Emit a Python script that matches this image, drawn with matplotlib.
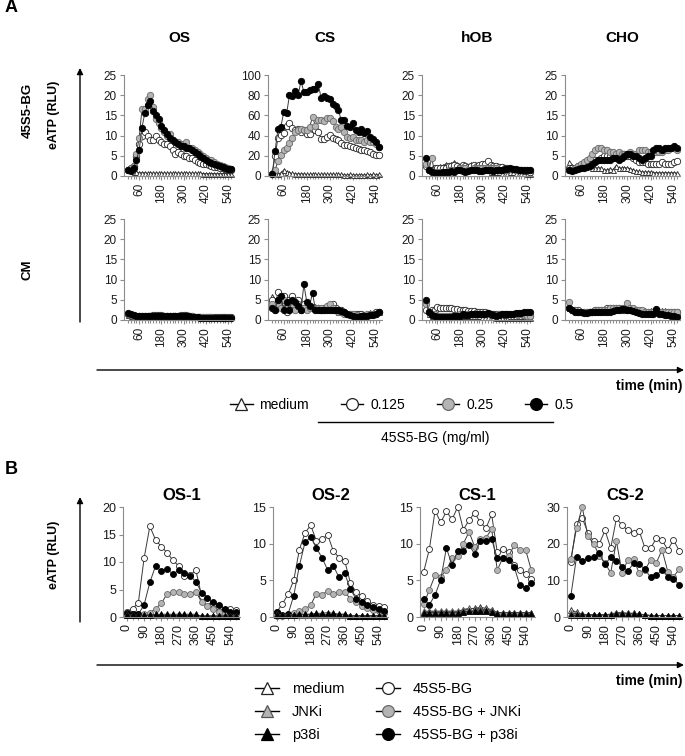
import matplotlib
matplotlib.use('Agg')
import matplotlib.pyplot as plt
from matplotlib.lines import Line2D

plt.rcParams['font.family'] = ['Liberation Sans', 'DejaVu Sans']

# ---------------- panel A data (time step 15 min, starting at 0) ----------------
step_a = 15
cols_a = ['OS', 'CS', 'hOB', 'CHO']
rows_a = ['45S5-BG', 'CM']
doses = ['medium', '0.125', '0.25', '0.5']

os_bg_med = [2.0, 1.5, 1.0, 0.9, 0.8, 0.8, 0.8, 0.7, 0.7, 0.7, 0.7, 0.7, 0.7, 0.7, 0.7, 0.7, 0.7, 0.7, 0.7, 0.7,
             0.7, 0.7, 0.7, 0.7, 0.7, 0.7, 0.7, 0.6, 0.6, 0.6, 0.6, 0.6, 0.6, 0.6, 0.6, 0.6, 0.6, 0.6]
os_bg_0125 = [1.5, 2.0, 2.5, 5.0, 8.0, 10.0, 11.0, 10.0, 9.0, 9.0, 10.0, 9.0, 8.5, 8.0, 8.0, 7.5, 6.5, 5.5, 6.0, 5.5,
              5.0, 5.0, 4.5, 4.5, 4.0, 3.5, 3.3, 3.0, 3.0, 2.8, 2.5, 2.3, 2.2, 2.0, 2.0, 1.8, 1.7, 1.6]
os_bg_025 = [1.5, 2.0, 2.5, 5.5, 9.5, 16.5, 16.5, 19.0, 20.0, 17.0, 14.0, 13.0, 12.0, 11.0, 10.0, 10.5, 9.0, 8.5, 8.5, 8.0,
             8.0, 8.5, 7.0, 7.0, 6.5, 6.0, 5.5, 5.0, 4.5, 4.0, 4.0, 3.5, 3.0, 2.8, 2.5, 2.3, 2.0, 1.8]
os_bg_05 = [1.5, 1.2, 2.0, 4.0, 6.5, 12.0, 15.5, 17.5, 18.5, 16.0, 15.0, 14.0, 12.5, 11.5, 10.5, 9.5, 9.0, 8.5, 8.0, 7.5,
            7.5, 7.0, 7.0, 6.5, 6.0, 5.5, 5.0, 4.5, 4.0, 3.5, 3.2, 3.0, 2.8, 2.5, 2.2, 2.0, 1.8, 1.7]

cs_bg_med = [5, 3, 2, 3, 6, 4, 3, 2.5, 2, 2, 2, 2, 1.5, 1.5, 2, 1.5, 1.5, 1.5, 2, 1.5,
             1.5, 2, 1.5, 1.5, 1.5, 1, 1, 1.5, 1, 1, 1, 1, 1, 1.5, 1, 1.5, 1, 1.5]
cs_bg_0125 = [2, 20, 38, 41, 43, 50, 52, 48, 46, 47, 44, 46, 42, 42, 47, 46, 44, 37, 37, 39,
              41, 38, 37, 36, 33, 31, 31, 30, 29, 28, 27, 26, 26, 25, 24, 22, 21, 21]
cs_bg_025 = [2, 6, 15, 21, 26, 28, 33, 38, 44, 46, 47, 46, 46, 49, 58, 50, 55, 55, 54, 57,
             57, 54, 49, 47, 49, 44, 39, 38, 39, 36, 36, 36, 34, 36, 34, 34, 32, 29]
cs_bg_05 = [2, 25, 47, 49, 63, 62, 80, 79, 84, 80, 94, 83, 83, 85, 86, 86, 91, 77, 79, 77,
            76, 71, 69, 65, 55, 55, 50, 49, 52, 46, 44, 47, 43, 45, 39, 37, 34, 29]

hob_bg_med = [3, 1.5, 1.8, 2, 2, 2.5, 2.5, 3, 2.5, 3, 3.5, 3, 2.5, 2, 2.5, 2.5, 3, 2.5, 2, 2,
              1.5, 1.5, 1.5, 1, 1, 1, 1, 0.8, 0.8, 0.8, 1, 1, 0.8, 0.8, 0.7, 0.7, 0.6, 0.6]
hob_bg_0125 = [2.5, 1.5, 1.5, 2, 2, 2, 2, 2, 2.5, 2.5, 2.8, 2.5, 2.2, 2.8, 2.5, 2.2, 2.5, 2.8, 2.5, 2.8,
               3.0, 3.0, 3.8, 2.8, 2.5, 2.5, 2.2, 2.2, 2.0, 2.0, 1.8, 1.8, 1.5, 1.5, 1.5, 1.2, 1.2, 1.0]
hob_bg_025 = [3, 1.5, 4.5, 1, 1, 1, 1, 1, 1.5, 1.5, 1.5, 1.5, 2, 2, 2, 1.5, 1.5, 2, 2, 2,
              2, 2, 2, 2, 2, 2, 1.5, 1.5, 1.5, 1.5, 1.8, 1.8, 1.5, 1.5, 1.5, 1.5, 1.5, 1.5]
hob_bg_05 = [4.5, 1.5, 1, 0.8, 0.8, 0.8, 1, 1, 1, 1.2, 1, 1.5, 1.5, 1.2, 1, 1.2, 1.5, 1.5, 1.5, 1.2,
             1.2, 1.5, 1.5, 1.5, 1.2, 1.5, 1.5, 1.5, 1.8, 1.8, 2, 1.8, 1.8, 1.6, 1.5, 1.5, 1.5, 1.4]

cho_bg_med = [3.5, 2.5, 2, 2, 2.5, 2.5, 2.5, 2.5, 2, 2, 2, 2, 1.5, 1.5, 1.8, 1.5, 2.5, 2, 2, 2,
              2, 1.8, 1.5, 1.2, 1.2, 1, 1, 1, 1, 0.8, 0.8, 0.8, 0.8, 0.8, 0.8, 0.8, 0.8, 0.7]
cho_bg_0125 = [2, 2, 2, 2.5, 2.5, 3, 3, 3.5, 3.5, 4, 4, 4.5, 5, 5, 5, 5, 5, 5, 5.5, 5.5,
               5, 5, 4.5, 4, 3.5, 3.5, 3.5, 3, 3, 3, 3, 3, 3.5, 3, 3, 3, 3.5, 3.8]
cho_bg_025 = [1.5, 1.5, 2, 2.5, 3, 3.5, 4, 4.5, 5.5, 6.5, 7, 7, 6.5, 6.5, 6, 6, 5.5, 6, 5.5, 5.5,
              5.5, 6, 5.5, 5.5, 6.5, 6.5, 6.5, 6, 6, 6, 6, 6, 6, 6.5, 6.5, 7, 7, 6.5]
cho_bg_05 = [1.5, 1.2, 1.5, 1.8, 2, 2, 2.2, 2.5, 3, 3.5, 4, 4, 4, 4, 4, 4.5, 4.5, 4, 4.5, 5,
             5.5, 5.5, 5, 5, 4.5, 4, 4.5, 5, 5, 6.5, 7, 7, 6.5, 7, 7, 7, 7.5, 7]

os_cm_med = [1.2, 1, 1, 1, 1, 1, 1, 1, 1, 1, 1, 1, 1, 1, 1, 1, 1, 1, 1, 1,
             1, 1, 0.8, 0.8, 0.8, 0.8, 0.8, 0.8, 0.8, 0.8, 0.8, 0.8, 0.7, 0.7, 0.7, 0.7, 0.7, 0.7]
os_cm_0125 = [1.5, 1.2, 1, 1, 1, 1, 1, 1, 1, 1.2, 1.2, 1.2, 1.2, 1, 1, 1, 1, 1, 1, 1.2,
              1.2, 1.2, 1, 1, 0.8, 0.8, 0.8, 0.8, 0.8, 0.7, 0.7, 0.7, 0.7, 0.7, 0.7, 0.7, 0.7, 0.7]
os_cm_025 = [1.6, 1.3, 1.1, 1, 1, 1, 1, 1, 1, 1, 1, 1, 1.1, 1.1, 1, 1, 1, 1, 1, 1,
             1, 1, 1, 0.9, 0.8, 0.8, 0.8, 0.7, 0.7, 0.7, 0.7, 0.6, 0.6, 0.6, 0.6, 0.6, 0.6, 0.6]
os_cm_05 = [1.8, 1.5, 1.2, 1, 1, 0.9, 0.9, 0.9, 1, 1, 1, 1, 1, 1, 1, 1, 1, 1, 1, 1,
            1, 1, 0.9, 0.8, 0.7, 0.7, 0.6, 0.6, 0.6, 0.6, 0.5, 0.5, 0.5, 0.5, 0.5, 0.5, 0.5, 0.6]

cs_cm_med = [6, 4, 5, 4, 3, 4.5, 3.5, 4, 3.5, 4, 3, 3.5, 4, 4, 3.5, 3.5, 3, 3, 3, 3,
             3, 2.5, 2.5, 2, 2, 2, 1.5, 1.5, 1.5, 1.5, 1.5, 1.5, 1.5, 1.5, 2, 1.5, 2, 2]
cs_cm_0125 = [5, 3, 7, 5, 6, 2, 5, 6, 3, 5, 2.5, 4, 3, 3.5, 3, 3, 3, 2.5, 3, 3,
              3.5, 4, 3, 2.5, 2.5, 2, 1.5, 1.5, 1.5, 1.5, 1.5, 1.5, 1.2, 1.2, 1.5, 1.5, 2, 2]
cs_cm_025 = [4, 2.5, 4, 3, 5, 3, 2.5, 4, 2.5, 4, 3, 3, 2.5, 3, 3, 3, 3, 3, 2.5, 3.5,
             4, 3, 2.5, 2, 2, 1.5, 1.5, 1.5, 1.5, 1, 1, 1, 1, 1.5, 1.5, 1.5, 1.5, 2]
cs_cm_05 = [3, 2.5, 5, 6, 2.5, 4.5, 2.5, 5, 4.5, 3.5, 2.5, 8.8, 4.5, 3.5, 6.8, 2.5, 2.5, 2.5, 2.5, 2.5,
            2.5, 2.5, 2.5, 2.5, 2.2, 2, 1.5, 1.2, 1, 0.8, 0.8, 1, 1, 1, 1.2, 1.2, 1.5, 2]

hob_cm_med = [3, 1.5, 1, 1, 1, 1, 1, 1, 1, 1, 1, 1, 1, 1, 1, 1, 1, 1, 1, 1,
              0.8, 0.8, 0.8, 0.8, 0.8, 0.5, 0.5, 0.5, 0.5, 0.5, 0.5, 0.5, 0.5, 0.5, 0.5, 0.5, 0.5, 0.5]
hob_cm_0125 = [2.5, 2, 2.5, 2.5, 3.3, 3, 3, 3, 3, 3, 2.8, 2.8, 2.5, 2.5, 2.5, 2.3, 2.3, 2.2, 2, 2,
               2, 2, 1.8, 1.5, 1.5, 1.5, 1.5, 1.5, 1.2, 1.2, 1, 1, 1, 1, 1, 1, 1, 1]
hob_cm_025 = [4, 2, 1.5, 1.5, 1, 1, 1, 1, 1, 1, 1, 1.2, 1.5, 1.5, 1.5, 1.5, 1.5, 1.5, 1.5, 1.5,
              1.5, 1.5, 1.5, 1.5, 1.2, 1.2, 1.5, 1.5, 1.5, 1.5, 1.5, 1.5, 1.5, 1.5, 1.5, 1.2, 1, 1]
hob_cm_05 = [5, 2, 1.2, 1, 0.8, 0.8, 0.8, 0.8, 0.8, 0.8, 1, 1, 1, 1.5, 1.2, 1.2, 1.5, 1.5, 1.5, 1.5,
             1.5, 1.5, 1.8, 1.5, 1.2, 1, 1.2, 1.5, 1.5, 1.5, 1.5, 1.5, 1.8, 1.8, 1.8, 2, 2, 2]

cho_cm_med = [3, 2.5, 2.5, 2, 2, 2, 2, 2, 2, 2, 2, 2.5, 2.5, 2.5, 2.5, 2.5, 3, 3, 3, 3,
              3, 3, 2.5, 2.5, 2.5, 2.5, 2.5, 2, 2.5, 2.5, 2.5, 2.5, 2.5, 2.5, 2, 2, 2, 2]
cho_cm_0125 = [3, 2.5, 2.5, 2.5, 2, 2, 2, 2, 2, 2.5, 2.5, 2.5, 2.5, 3, 3, 3, 3, 3, 2.5, 2.5,
               2.5, 2.5, 2.5, 2.5, 2, 2, 2, 2, 2, 2, 2, 2, 2, 2, 2, 2, 2, 2]
cho_cm_025 = [4.5, 2.5, 2.5, 2, 2, 2, 2, 2, 2, 2.5, 2.5, 2.5, 2.5, 2.5, 3, 3, 3, 3, 3, 3,
              4.2, 3, 3, 2.5, 2.5, 2.5, 2, 2, 2, 2, 2, 2, 2, 2, 2, 2, 2, 2]
cho_cm_05 = [3, 2.5, 2, 2, 2, 1.8, 1.8, 2, 2, 2, 2, 2, 2, 2, 2, 2.2, 2.5, 2.5, 2.8, 2.8,
             2.5, 2.5, 2.2, 2, 1.8, 1.5, 1.5, 1.5, 1.5, 1.5, 2.8, 1.5, 1.5, 1.2, 1.2, 1, 1, 0.8]

ymax_a = [25, 100, 25, 25]
ystep_a = [5, 20, 5, 5]

# ---------------- panel B data (time step 30 min, starting at 0) ----------------
step_b = 30
cols_b = ['OS-1', 'OS-2', 'CS-1', 'CS-2']
treat_b = ['medium', 'JNKi', 'p38i', '45S5-BG', '45S5-BG + JNKi', '45S5-BG + p38i']

os1_med = [0.5, 0.3, 0.3, 0.3, 0.3, 0.3, 0.3, 0.3, 0.3, 0.3, 0.3, 0.3, 0.3, 0.2, 0.2, 0.2, 0.2, 0.2, 0.2, 0.2]
os1_jnk = [0.4, 0.3, 0.3, 0.3, 0.3, 0.3, 0.3, 0.3, 0.3, 0.3, 0.3, 0.3, 0.3, 0.2, 0.2, 0.2, 0.2, 0.2, 0.2, 0.2]
os1_p38 = [0.3, 0.3, 0.3, 0.3, 0.4, 0.5, 0.5, 0.5, 0.5, 0.5, 0.5, 0.5, 0.5, 0.1, 0.1, 0.1, 0.1, 0.1, 0.1, 0.1]
os1_bg = [1.0, 1.5, 2.6, 10.7, 16.5, 14.0, 12.8, 11.7, 10.3, 9.3, 7.4, 7.6, 8.5, 3.8, 3.0, 2.4, 1.8, 1.3, 1.5, 1.2]
os1_bg_jnk = [0.5, 0.5, 0.6, 0.5, 0.8, 1.5, 2.5, 4.2, 4.6, 4.6, 4.2, 4.2, 4.6, 2.7, 2.0, 1.5, 1.0, 0.7, 0.6, 0.5]
os1_bg_p38 = [0.8, 0.5, 0.5, 2.2, 6.3, 9.3, 8.3, 8.7, 7.8, 8.5, 8.0, 7.5, 6.4, 4.4, 3.4, 2.8, 2.2, 1.5, 1.0, 1.0]

os2_med = [0.4, 0.3, 0.3, 0.3, 0.3, 0.3, 0.3, 0.3, 0.3, 0.3, 0.3, 0.3, 0.3, 0.2, 0.2, 0.2, 0.2, 0.2, 0.2, 0.2]
os2_jnk = [0.3, 0.3, 0.3, 0.3, 0.3, 0.3, 0.3, 0.3, 0.3, 0.3, 0.3, 0.3, 0.3, 0.2, 0.2, 0.2, 0.2, 0.2, 0.2, 0.2]
os2_p38 = [0.3, 0.3, 0.3, 0.3, 0.4, 0.4, 0.4, 0.5, 0.5, 0.6, 0.5, 0.4, 0.4, 0.1, 0.1, 0.1, 0.1, 0.1, 0.1, 0.1]
os2_bg = [0.7, 1.8, 3.1, 5.0, 9.2, 11.5, 12.5, 10.4, 10.6, 11.2, 9.0, 8.1, 7.7, 4.7, 3.4, 2.8, 2.2, 1.7, 1.5, 1.3]
os2_bg_jnk = [0.2, 0.2, 0.3, 0.6, 0.8, 1.1, 1.6, 3.2, 3.0, 3.6, 3.2, 3.4, 3.4, 2.5, 2.0, 1.5, 1.2, 1.0, 0.8, 0.6]
os2_bg_p38 = [0.7, 0.3, 0.4, 2.9, 7.0, 10.2, 10.9, 9.4, 8.1, 6.4, 7.0, 5.4, 6.0, 3.8, 2.5, 2.0, 1.6, 1.3, 1.1, 0.8]

cs1_med = [0.7, 0.7, 0.7, 0.7, 0.7, 0.7, 0.7, 0.9, 1.1, 1.2, 1.3, 1.2, 1.0, 0.6, 0.6, 0.6, 0.6, 0.6, 0.6, 0.6]
cs1_jnk = [0.8, 0.8, 0.8, 0.8, 0.8, 0.8, 0.8, 1.0, 1.2, 1.1, 1.1, 1.0, 0.9, 0.6, 0.6, 0.6, 0.6, 0.6, 0.6, 0.6]
cs1_p38 = [0.6, 0.6, 0.6, 0.6, 0.6, 0.6, 0.6, 0.7, 0.8, 0.8, 0.8, 0.8, 0.7, 0.4, 0.4, 0.4, 0.4, 0.4, 0.4, 0.4]
cs1_bg = [6.2, 9.3, 14.5, 12.9, 14.4, 13.3, 15.0, 11.9, 13.2, 14.2, 12.9, 12.1, 14.0, 8.8, 9.3, 8.8, 7.1, 6.4, 5.9, 5.2]
cs1_bg_jnk = [1.8, 3.7, 5.7, 5.5, 6.4, 8.0, 8.3, 10.0, 11.6, 9.6, 10.6, 10.8, 12.0, 6.4, 8.1, 8.3, 9.8, 9.2, 9.2, 6.4]
cs1_bg_p38 = [2.5, 1.7, 3.0, 5.1, 9.4, 7.1, 9.0, 9.0, 9.8, 8.6, 10.4, 10.3, 10.6, 8.0, 8.1, 7.8, 6.8, 4.3, 4.0, 4.6]

cs2_med = [2.0, 1.3, 0.8, 0.6, 0.6, 0.6, 0.6, 0.6, 1.0, 1.0, 1.0, 1.0, 0.8, 0.6, 0.4, 0.4, 0.4, 0.4, 0.4, 0.4]
cs2_jnk = [1.0, 0.8, 0.6, 0.6, 0.6, 0.6, 0.6, 0.8, 1.2, 1.2, 1.0, 1.0, 0.8, 0.6, 0.4, 0.4, 0.4, 0.4, 0.4, 0.4]
cs2_p38 = [0.5, 0.5, 0.5, 0.5, 0.5, 0.5, 0.5, 0.6, 0.8, 0.8, 0.8, 0.8, 0.7, 0.5, 0.4, 0.4, 0.4, 0.4, 0.4, 0.4]
cs2_bg = [15.0, 25.4, 27.0, 23.0, 20.6, 20.0, 23.6, 18.8, 26.9, 25.0, 23.6, 23.0, 23.4, 18.8, 18.8, 21.5, 21.0, 18.3, 21.0, 18.1]
cs2_bg_jnk = [15.7, 24.2, 30.0, 22.0, 20.0, 16.7, 14.6, 12.1, 20.6, 12.1, 15.6, 15.7, 11.9, 12.8, 15.6, 14.8, 18.3, 12.4, 11.0, 13.0]
cs2_bg_p38 = [5.7, 16.3, 15.4, 16.0, 16.3, 17.4, 14.4, 16.3, 15.4, 13.7, 12.6, 14.6, 14.4, 13.0, 10.8, 11.4, 12.8, 11.0, 10.5, 8.7]

ymax_b = [20, 15, 15, 30]
ystep_b = [5, 5, 5, 10]

# ---------------- layout (pixels) ----------------
W, H = 685, 756
fig = plt.figure(figsize=(W / 100, H / 100), dpi=100)


def box(x0, y0, x1, y1):
    return [x0 / W, 1 - y1 / H, (x1 - x0) / W, (y1 - y0) / H]


LINE = '#3a3a3a'
AX = '#8c8c8c'
sty_white = dict(marker='o', mfc='white', mec='#222222')
sty_gray = dict(marker='o', mfc='#b4b4b4', mec='#6a6a6a')
sty_black = dict(marker='o', mfc='black', mec='black')
tri_white = dict(marker='^', mfc='white', mec='#222222')
tri_gray = dict(marker='^', mfc='#b4b4b4', mec='#555555')
tri_black = dict(marker='^', mfc='black', mec='black')


def style_ax(ax, ymax, ystep, xmaj, xmin, xlim):
    for s in ['top', 'right']:
        ax.spines[s].set_visible(False)
    for s in ['left', 'bottom']:
        ax.spines[s].set_color(AX)
        ax.spines[s].set_linewidth(0.8)
    ax.set_ylim(0, ymax)
    ax.set_yticks(range(0, ymax + 1, ystep))
    ax.set_xlim(*xlim)
    ax.set_xticks(xmaj)
    ax.set_xticks(xmin, minor=True)
    ax.tick_params(axis='both', which='both', color=AX, width=0.8, labelcolor='#1a1a1a')
    ax.tick_params(axis='y', length=3, labelsize=8.5, pad=2)
    ax.tick_params(axis='x', which='major', length=3, labelsize=8.5, labelrotation=90, pad=2)
    ax.tick_params(axis='x', which='minor', length=2.5)


# panel A
data_a = [
    [[os_bg_med, os_bg_0125, os_bg_025, os_bg_05], [cs_bg_med, cs_bg_0125, cs_bg_025, cs_bg_05],
     [hob_bg_med, hob_bg_0125, hob_bg_025, hob_bg_05], [cho_bg_med, cho_bg_0125, cho_bg_025, cho_bg_05]],
    [[os_cm_med, os_cm_0125, os_cm_025, os_cm_05], [cs_cm_med, cs_cm_0125, cs_cm_025, cs_cm_05],
     [hob_cm_med, hob_cm_0125, hob_cm_025, hob_cm_05], [cho_cm_med, cho_cm_0125, cho_cm_025, cho_cm_05]],
]
styles_a = [tri_white, sty_white, sty_gray, sty_black]
xa0 = [124, 268, 422, 565]
wa = [110, 114, 111, 115]
ya = [(75, 176), (219, 320)]
for r in range(2):
    for c in range(4):
        ax = fig.add_axes(box(xa0[c], ya[r][0], xa0[c] + wa[c], ya[r][1]))
        for k, vals in enumerate(data_a[r][c]):
            t = [i * step_a for i in range(len(vals))]
            ms = 3.6 if k == 0 else 4.6
            ax.plot(t, vals, color=LINE, lw=0.7, ms=ms, mew=0.6, clip_on=False, **styles_a[k])
        yl = ymax_a[c] if r == 0 else 25
        ys = ystep_a[c] if r == 0 else 5
        style_ax(ax, yl, ys, list(range(60, 541, 120)), list(range(0, 556, 15)), (-22, 572))
        if r == 0:
            ax.set_title(cols_a[c], fontsize=11, fontweight='bold', pad=24)

# panel B
data_b = [
    [os1_bg, os1_bg_jnk, os1_bg_p38, os1_med, os1_jnk, os1_p38],
    [os2_bg, os2_bg_jnk, os2_bg_p38, os2_med, os2_jnk, os2_p38],
    [cs1_bg, cs1_bg_jnk, cs1_bg_p38, cs1_med, cs1_jnk, cs1_p38],
    [cs2_bg, cs2_bg_jnk, cs2_bg_p38, cs2_med, cs2_jnk, cs2_p38],
]
styles_b = [sty_white, sty_gray, sty_black, tri_white, tri_gray, tri_black]
xb0 = [123, 273, 420, 567]
wb = [117, 115, 115, 116]
for c in range(4):
    ax = fig.add_axes(box(xb0[c], 507, xb0[c] + wb[c], 617))
    for k, vals in enumerate(data_b[c]):
        t = [i * step_b for i in range(len(vals))]
        ax.plot(t, vals, color=LINE, lw=0.7, ms=4.3, mew=0.6, clip_on=False, **styles_b[k])
    style_ax(ax, ymax_b[c], ystep_b[c], list(range(0, 541, 90)), list(range(0, 571, 30)), (-20, 590))
    ax.tick_params(axis='both', labelsize=9)
    ax.set_title(cols_b[c], fontsize=12, fontweight='bold', pad=5)

# overlay for arrows, side labels and panel letters
ov = fig.add_axes([0, 0, 1, 1], zorder=-1)
ov.set_xlim(0, W)
ov.set_ylim(H, 0)
ov.axis('off')
arr = dict(arrowstyle='-|>', color='black', lw=1.0, mutation_scale=9, shrinkA=0, shrinkB=0)
ov.annotate('', xy=(80, 68), xytext=(80, 322), arrowprops=arr)
ov.annotate('', xy=(684, 370), xytext=(97, 370), arrowprops=arr)
ov.annotate('', xy=(80, 497), xytext=(80, 622), arrowprops=arr)
ov.annotate('', xy=(684, 665), xytext=(97, 665), arrowprops=arr)

ov.text(5, 8, 'A', fontsize=13, fontweight='bold', va='center', ha='left')
ov.text(5, 470, 'B', fontsize=13, fontweight='bold', va='center', ha='left')
ov.text(54, 115, 'eATP (RLU)', fontsize=9, fontweight='bold', rotation=90, ha='center', va='center')
ov.text(54, 555, 'eATP (RLU)', fontsize=9, fontweight='bold', rotation=90, ha='center', va='center')
ov.text(28, 110, rows_a[0], fontsize=9.5, fontweight='bold', rotation=90, ha='center', va='center')
ov.text(28, 270, rows_a[1], fontsize=9.5, fontweight='bold', rotation=90, ha='center', va='center')
ov.text(683, 386, 'time (min)', fontsize=10, fontweight='bold', ha='right', va='center')
ov.text(683, 681, 'time (min)', fontsize=10, fontweight='bold', ha='right', va='center')
ov.plot([318, 553], [422, 422], color='black', lw=1.0)
ov.text(435, 438, '45S5-BG (mg/ml)', fontsize=10, ha='center', va='center')

# legends
def handle(st, ms):
    return Line2D([], [], color='black', lw=1.0, ms=ms, mew=0.9, **st)


h_a = [handle(s, 8.5) for s in styles_a]
fig.legend(h_a, doses, ncol=4, frameon=False, fontsize=10, loc='center',
           bbox_to_anchor=(402 / W, 1 - 405 / H), handlelength=1.6, handletextpad=0.5,
           columnspacing=2.3, borderpad=0)

order_b = [3, 4, 5, 0, 1, 2]
h_b = [handle(styles_b[i], 8.5) for i in order_b]
fig.legend(h_b, treat_b, ncol=2, frameon=False, fontsize=10.5, loc='center',
           bbox_to_anchor=(388 / W, 1 - 712 / H), handlelength=1.6, handletextpad=0.9,
           columnspacing=2.2, labelspacing=0.6, borderpad=0)

fig.savefig('out.png', dpi=100)
